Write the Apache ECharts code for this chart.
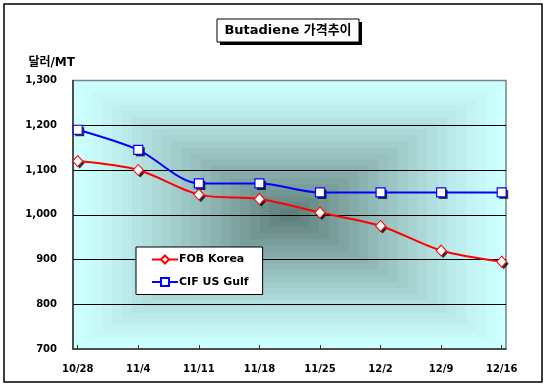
<!DOCTYPE html>
<html>
<head>
<meta charset="utf-8">
<script src="https://cdn.jsdelivr.net/npm/echarts@6/dist/echarts.min.js"></script>
<style>
html,body{margin:0;padding:0;background:#fff;}
#chart{width:547px;height:386px;}
</style>
</head>
<body>
<div id="chart"></div>
<script>
const categories = ['10/28','11/4','11/11','11/18','11/25','12/2','12/9','12/16'];
const fobKorea = [1120,1100,1045,1035,1005,975,920,895];
const cifUSGulf = [1190,1145,1070,1070,1050,1050,1050,1050];
const seriesNames = ['FOB Korea','CIF US Gulf'];
const titleText = 'Butadiene 가격추이';
const yAxisName = '달러/MT';

const FONT = '"DejaVu Sans", "Noto Sans CJK KR", sans-serif';
const KFONT = '"DejaVu Sans", "Noto Sans CJK KR", sans-serif';

// plot area geometry
const PX = 73, PY = 80.5, PW = 433, PH = 268.5;

const chart = echarts.init(document.getElementById('chart'), null, {renderer:'canvas'});

// rectangular "from center" gradient background
function lerp(a,b,t){return Math.round(a+(b-a)*t);}
const edge=[204,255,255], center=[90,120,116];
const bands=[];
const N=22;
for(let i=0;i<N;i++){
  const t=i/N;
  const tc=Math.pow(t,1.25);
  const c=[lerp(edge[0],center[0],tc),lerp(edge[1],center[1],tc),lerp(edge[2],center[2],tc)];
  const ix=t*PW/2, iy=t*PH/2;
  bands.push({type:'rect', z:-20+i*0.01, silent:true,
    shape:{x:PX+ix,y:PY+iy,width:PW-2*ix,height:PH-2*iy},
    style:{fill:'rgb('+c.join(',')+')'}});
}

const mk = (arr)=>arr.map((v,i)=>[i,v]);

function shadowSeries(arr, symbol, size){
  return {type:'scatter', data:mk(arr), symbol:symbol, symbolSize:size, symbolOffset:[2,2],
    itemStyle:{color:'#000'}, silent:true, z:2, legendHoverLink:false};
}

chart.setOption({
  animation:false,
  graphic:[
    ...bands,
    {type:'rect', z:-1, silent:true, shape:{x:PX,y:PY,width:PW,height:PH}, style:{fill:'none',stroke:'#808080',lineWidth:1.5}},
    {type:'rect', z:10, silent:true, shape:{x:4,y:4,width:538,height:378}, style:{fill:'none',stroke:'#000',lineWidth:1.5}},
    {type:'rect', z:10, silent:true, shape:{x:220,y:22,width:142,height:23}, style:{fill:'#000'}},
    {type:'rect', z:11, silent:true, shape:{x:217,y:19,width:142,height:23}, style:{fill:'#fff',stroke:'#000',lineWidth:1}},
    {type:'text', z:12, silent:true, x:288, y:31, style:{text:titleText, font:'bold 13px '+KFONT, fill:'#000', align:'center', verticalAlign:'middle'}}
  ],
  grid:{left:PX, top:PY, width:PW, height:PH, containLabel:false},
  legend:{
    left:136, top:247, orient:'vertical',
    backgroundColor:'#fff', borderColor:'#000', borderWidth:1, borderRadius:0,
    padding:[7,14,7,15], itemWidth:26, itemHeight:10, itemGap:11.5,
    textStyle:{fontFamily:FONT, fontWeight:'bold', fontSize:11, color:'#000', padding:[0,0,0,-4]},
    data:seriesNames
  },
  xAxis:{
    type:'value', min:-0.078, max:7.071,
    axisLine:{show:true, onZero:false, lineStyle:{color:'#333', width:1.5}},
    axisTick:{show:true, inside:true, length:4, lineStyle:{color:'#333'}, customValues:categories.map((c,i)=>i)},
    axisLabel:{show:true, customValues:categories.map((c,i)=>i), margin:15,
      formatter:(v)=>categories[Math.round(v)] ?? '',
      fontFamily:FONT, fontWeight:'bold', fontSize:10, color:'#000'},
    splitLine:{show:false}
  },
  yAxis:{
    type:'value', min:700, max:1300, interval:100,
    name:yAxisName, nameLocation:'end', nameGap:18,
    nameTextStyle:{fontFamily:KFONT, fontWeight:'bold', fontSize:12, color:'#000', align:'right', verticalAlign:'middle', padding:[0,-2,0,0]},
    axisLine:{show:true, onZero:false, lineStyle:{color:'#333', width:1.5}},
    axisTick:{show:false},
    axisLabel:{margin:16, formatter:(v)=>v.toLocaleString('en-US'),
      fontFamily:FONT, fontWeight:'bold', fontSize:10, color:'#000'},
    splitLine:{show:true, showMinLine:false, showMaxLine:false, lineStyle:{color:'#000', width:1}}
  },
  series:[
    shadowSeries(fobKorea, 'diamond', [10,11]),
    shadowSeries(cifUSGulf, 'rect', 9),
    {name:seriesNames[0], type:'line', data:mk(fobKorea), smooth:0.3,
     symbol:'diamond', symbolSize:[10,11],
     lineStyle:{color:'#ff0000', width:2},
     itemStyle:{color:'#fff', borderColor:'#ff0000', borderWidth:1},
     z:3},
    {name:seriesNames[1], type:'line', data:mk(cifUSGulf), smooth:0.3,
     symbol:'rect', symbolSize:9,
     lineStyle:{color:'#0000ff', width:2},
     itemStyle:{color:'#fff', borderColor:'#0000ff', borderWidth:1.2},
     z:4}
  ]
});
</script>
</body>
</html>
